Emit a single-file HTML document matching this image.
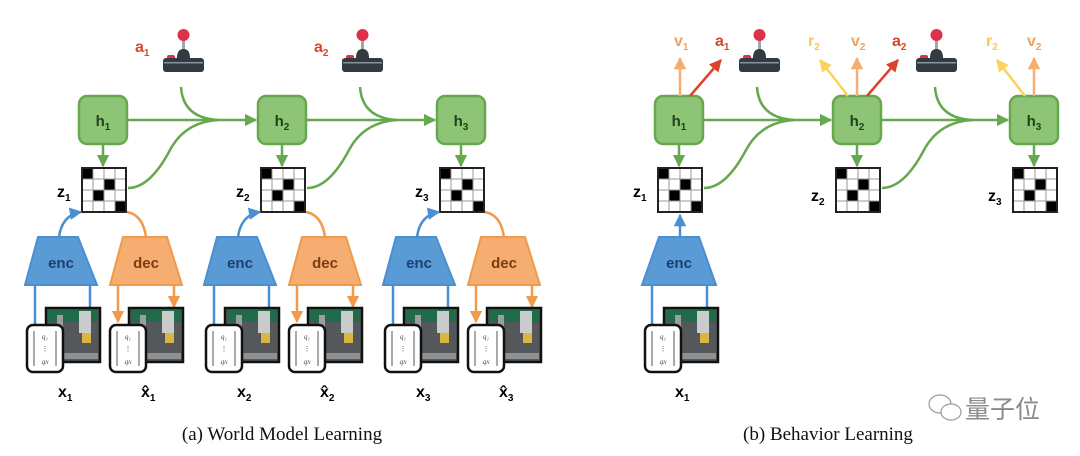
<!DOCTYPE html>
<html><head><meta charset="utf-8"><style>
html,body{margin:0;padding:0;background:#fff;}
svg{display:block;}
.b{font-family:"Liberation Sans",sans-serif;font-weight:bold;}
</style></head><body>
<svg width="1080" height="456" viewBox="0 0 1080 456" xmlns="http://www.w3.org/2000/svg">
<defs>
<marker id="ag" viewBox="0 0 10 10" refX="9" refY="5" markerWidth="5" markerHeight="5" orient="auto"><path d="M0,0L10,5L0,10z" fill="#67a84f"/></marker>
<marker id="ab" viewBox="0 0 10 10" refX="9" refY="5" markerWidth="5" markerHeight="5" orient="auto"><path d="M0,0L10,5L0,10z" fill="#4a8fd2"/></marker>
<marker id="ao" viewBox="0 0 10 10" refX="9" refY="5" markerWidth="5" markerHeight="5" orient="auto"><path d="M0,0L10,5L0,10z" fill="#f09a4a"/></marker>
<marker id="ay" viewBox="0 0 10 10" refX="9" refY="5" markerWidth="5" markerHeight="5" orient="auto"><path d="M0,0L10,5L0,10z" fill="#fcd25c"/></marker>
<marker id="av" viewBox="0 0 10 10" refX="9" refY="5" markerWidth="5" markerHeight="5" orient="auto"><path d="M0,0L10,5L0,10z" fill="#f5ad72"/></marker>
<marker id="ar" viewBox="0 0 10 10" refX="9" refY="5" markerWidth="5" markerHeight="5" orient="auto"><path d="M0,0L10,5L0,10z" fill="#d9452b"/></marker>
<g id="joy">
<rect x="-1" y="10" width="3" height="14" fill="#9aa"/>
<circle cx="0.5" cy="8" r="6" fill="#e0304a"/>
<path d="M-6,31 Q-6,22 0.5,22 Q7,22 7,31z" fill="#333a40"/>
<rect x="-16" y="28" width="8" height="5" rx="2" fill="#e0304a"/>
<rect x="-20" y="31" width="41" height="14" rx="3" fill="#333a40"/>
<rect x="-19" y="35" width="39" height="1.5" fill="#8a9399"/>
</g>
<g id="grid">
<rect x="0" y="0" width="44" height="44" fill="#fff" stroke="#222" stroke-width="2"/>
<rect x="1" y="1" width="10.5" height="10.5" fill="#000"/>
<rect x="22" y="11.5" width="10.5" height="10.5" fill="#000"/>
<rect x="11.5" y="22" width="10.5" height="10.5" fill="#000"/>
<rect x="32.5" y="32.5" width="10.5" height="10.5" fill="#000"/>
<path d="M11,1V43M22,1V43M33,1V43M1,11H43M1,22H43M1,33H43" stroke="#999" stroke-width="1"/>
</g>
<g id="obs">
<rect x="19" y="-17" width="54" height="54" fill="#55585a" stroke="#111" stroke-width="2.5"/>
<rect x="21" y="-15" width="50" height="12" fill="#1f6b4a"/>
<rect x="30" y="-10" width="6" height="46" fill="#9a9ea0"/>
<rect x="52" y="-14" width="12" height="22" fill="#c9cbcc"/>
<rect x="55" y="8" width="9" height="10" fill="#d8b640"/>
<rect x="21" y="28" width="50" height="6" fill="#8e9194"/>
<rect x="0" y="0" width="36" height="47" rx="6" fill="#fff" stroke="#111" stroke-width="2.5"/>
<path d="M7,6V41M29,6V41" stroke="#555" stroke-width="1"/>
<text x="18" y="14" font-size="7" font-style="italic" text-anchor="middle" font-family="Liberation Serif,serif" fill="#444">q₁</text>
<text x="18" y="26" font-size="7" text-anchor="middle" font-family="Liberation Serif,serif" fill="#444">⋮</text>
<text x="18" y="39" font-size="7" font-style="italic" text-anchor="middle" font-family="Liberation Serif,serif" fill="#444">q<tspan font-size="5">N</tspan></text>
</g>
<g id="unitL">
<rect x="79" y="96" width="48" height="48" rx="8" fill="#8dc476" stroke="#67a84f" stroke-width="2.5"/>
<line x1="103" y1="144" x2="103" y2="166" stroke="#67a84f" stroke-width="2.5" marker-end="url(#ag)"/>
<use href="#grid" x="82" y="168"/>
<path d="M38,237H78L97,285H25z" fill="#5b9bd5" stroke="#4a8fd2" stroke-width="2"/>
<text class="b" x="61" y="268" font-size="15" text-anchor="middle" fill="#1b3f73">enc</text>
<path d="M59,237Q62,215 81,212" fill="none" stroke="#4a8fd2" stroke-width="2.5" marker-end="url(#ab)"/>
<path d="M35,285V325M90,285V308" stroke="#4a8fd2" stroke-width="2.5"/>
<path d="M123,237H167L182,285H110z" fill="#f5ad72" stroke="#f09a4a" stroke-width="2"/>
<text class="b" x="146" y="268" font-size="15" text-anchor="middle" fill="#7a3d0e">dec</text>
<path d="M127,212Q143,215 146,237" fill="none" stroke="#f09a4a" stroke-width="2.5"/>
<line x1="118" y1="285" x2="118" y2="322" stroke="#f09a4a" stroke-width="2.5" marker-end="url(#ao)"/>
<line x1="174" y1="285" x2="174" y2="307" stroke="#f09a4a" stroke-width="2.5" marker-end="url(#ao)"/>
<use href="#obs" x="27" y="325"/>
<use href="#obs" x="110" y="325"/>
</g>
</defs>

<!-- LEFT PANEL -->
<use href="#unitL" x="0" y="0"/>
<use href="#unitL" x="179" y="0"/>
<use href="#unitL" x="358" y="0"/>
<g class="b" font-size="15" text-anchor="middle" fill="#24401a">
<text x="103" y="126">h<tspan font-size="10" dy="4">1</tspan></text>
<text x="282" y="126">h<tspan font-size="10" dy="4">2</tspan></text>
<text x="461" y="126">h<tspan font-size="10" dy="4">3</tspan></text>
</g>
<g class="b" font-size="16" fill="#000">
<text x="57" y="197">z<tspan font-size="10" dy="4">1</tspan></text>
<text x="236" y="197">z<tspan font-size="10" dy="4">2</tspan></text>
<text x="415" y="197">z<tspan font-size="10" dy="4">3</tspan></text>
<text x="58" y="397">x<tspan font-size="10" dy="4">1</tspan></text>
<text x="141" y="397">x̂<tspan font-size="10" dy="4">1</tspan></text>
<text x="237" y="397">x<tspan font-size="10" dy="4">2</tspan></text>
<text x="320" y="397">x̂<tspan font-size="10" dy="4">2</tspan></text>
<text x="416" y="397">x<tspan font-size="10" dy="4">3</tspan></text>
<text x="499" y="397">x̂<tspan font-size="10" dy="4">3</tspan></text>
</g>
<g fill="none" stroke="#67a84f" stroke-width="2.5">
<line x1="127" y1="120" x2="256" y2="120" marker-end="url(#ag)"/>
<path d="M181,87Q183,118 218,120"/>
<path d="M128,188Q150,188 170,150Q185,122 218,120"/>
<line x1="306" y1="120" x2="435" y2="120" marker-end="url(#ag)"/>
<path d="M360,87Q362,118 397,120"/>
<path d="M307,188Q329,188 349,150Q364,122 397,120"/>
</g>
<use href="#joy" x="183" y="27"/>
<use href="#joy" x="362" y="27"/>
<text class="b" x="135" y="52" font-size="16" fill="#d9452b">a<tspan font-size="10" dy="4">1</tspan></text>
<text class="b" x="314" y="52" font-size="16" fill="#d9452b">a<tspan font-size="10" dy="4">2</tspan></text>

<!-- RIGHT PANEL -->
<g id="hR">
<rect x="655" y="96" width="48" height="48" rx="8" fill="#8dc476" stroke="#67a84f" stroke-width="2.5"/>
<line x1="679" y1="144" x2="679" y2="166" stroke="#67a84f" stroke-width="2.5" marker-end="url(#ag)"/>
<use href="#grid" x="658" y="168"/>
</g>
<use href="#hR" x="178" y="0"/>
<use href="#hR" x="355" y="0"/>
<g class="b" font-size="15" text-anchor="middle" fill="#24401a">
<text x="679" y="126">h<tspan font-size="10" dy="4">1</tspan></text>
<text x="857" y="126">h<tspan font-size="10" dy="4">2</tspan></text>
<text x="1034" y="126">h<tspan font-size="10" dy="4">3</tspan></text>
</g>
<g class="b" font-size="16" fill="#000">
<text x="633" y="197">z<tspan font-size="10" dy="4">1</tspan></text>
<text x="811" y="201">z<tspan font-size="10" dy="4">2</tspan></text>
<text x="988" y="201">z<tspan font-size="10" dy="4">3</tspan></text>
<text x="675" y="397">x<tspan font-size="10" dy="4">1</tspan></text>
</g>
<path d="M659,237H699L716,285H642z" fill="#5b9bd5" stroke="#4a8fd2" stroke-width="2"/>
<text class="b" x="679" y="268" font-size="15" text-anchor="middle" fill="#1b3f73">enc</text>
<line x1="680" y1="237" x2="680" y2="215" stroke="#4a8fd2" stroke-width="2.5" marker-end="url(#ab)"/>
<path d="M652,285V325M707,285V308" stroke="#4a8fd2" stroke-width="2.5"/>
<use href="#obs" x="645" y="325"/>
<g fill="none" stroke="#67a84f" stroke-width="2.5">
<line x1="703" y1="120" x2="831" y2="120" marker-end="url(#ag)"/>
<path d="M757,87Q759,118 794,120"/>
<path d="M704,188Q726,188 746,150Q761,122 794,120"/>
<line x1="881" y1="120" x2="1008" y2="120" marker-end="url(#ag)"/>
<path d="M935,87Q937,118 972,120"/>
<path d="M882,188Q904,188 924,150Q939,122 972,120"/>
</g>
<use href="#joy" x="759" y="27"/>
<use href="#joy" x="936" y="27"/>
<g stroke-width="2.5">
<line x1="680" y1="96" x2="680" y2="58" stroke="#f5ad72" marker-end="url(#av)"/>
<line x1="690" y1="96" x2="721" y2="60" stroke="#d9452b" marker-end="url(#ar)"/>
<line x1="848" y1="96" x2="820" y2="60" stroke="#fcd25c" marker-end="url(#ay)"/>
<line x1="857" y1="96" x2="857" y2="58" stroke="#f5ad72" marker-end="url(#av)"/>
<line x1="867" y1="96" x2="898" y2="60" stroke="#d9452b" marker-end="url(#ar)"/>
<line x1="1025" y1="96" x2="997" y2="60" stroke="#fcd25c" marker-end="url(#ay)"/>
<line x1="1034" y1="96" x2="1034" y2="58" stroke="#f5ad72" marker-end="url(#av)"/>
</g>
<g class="b" font-size="16">
<text x="674" y="46" fill="#f0a060">v<tspan font-size="10" dy="4">1</tspan></text>
<text x="715" y="46" fill="#d9452b">a<tspan font-size="10" dy="4">1</tspan></text>
<text x="808" y="46" fill="#f7c84a">r<tspan font-size="10" dy="4">2</tspan></text>
<text x="851" y="46" fill="#f0a060">v<tspan font-size="10" dy="4">2</tspan></text>
<text x="892" y="46" fill="#d9452b">a<tspan font-size="10" dy="4">2</tspan></text>
<text x="986" y="46" fill="#f7c84a">r<tspan font-size="10" dy="4">2</tspan></text>
<text x="1027" y="46" fill="#f0a060">v<tspan font-size="10" dy="4">2</tspan></text>
</g>

<text x="282" y="440" font-size="19" text-anchor="middle" font-family="Liberation Serif,serif" fill="#111">(a) World Model Learning</text>
<text x="828" y="440" font-size="19" text-anchor="middle" font-family="Liberation Serif,serif" fill="#111">(b) Behavior Learning</text>
<g fill="none" stroke="#999" stroke-width="1.2">
<ellipse cx="940" cy="404" rx="11" ry="9" fill="#fff"/>
<ellipse cx="951" cy="412" rx="10" ry="8" fill="#fff"/>
</g>
<text x="965" y="418" font-size="25" font-family="Liberation Sans,'Noto Sans CJK SC',sans-serif" fill="#8a8a8a">量子位</text>
</svg>
</body></html>
